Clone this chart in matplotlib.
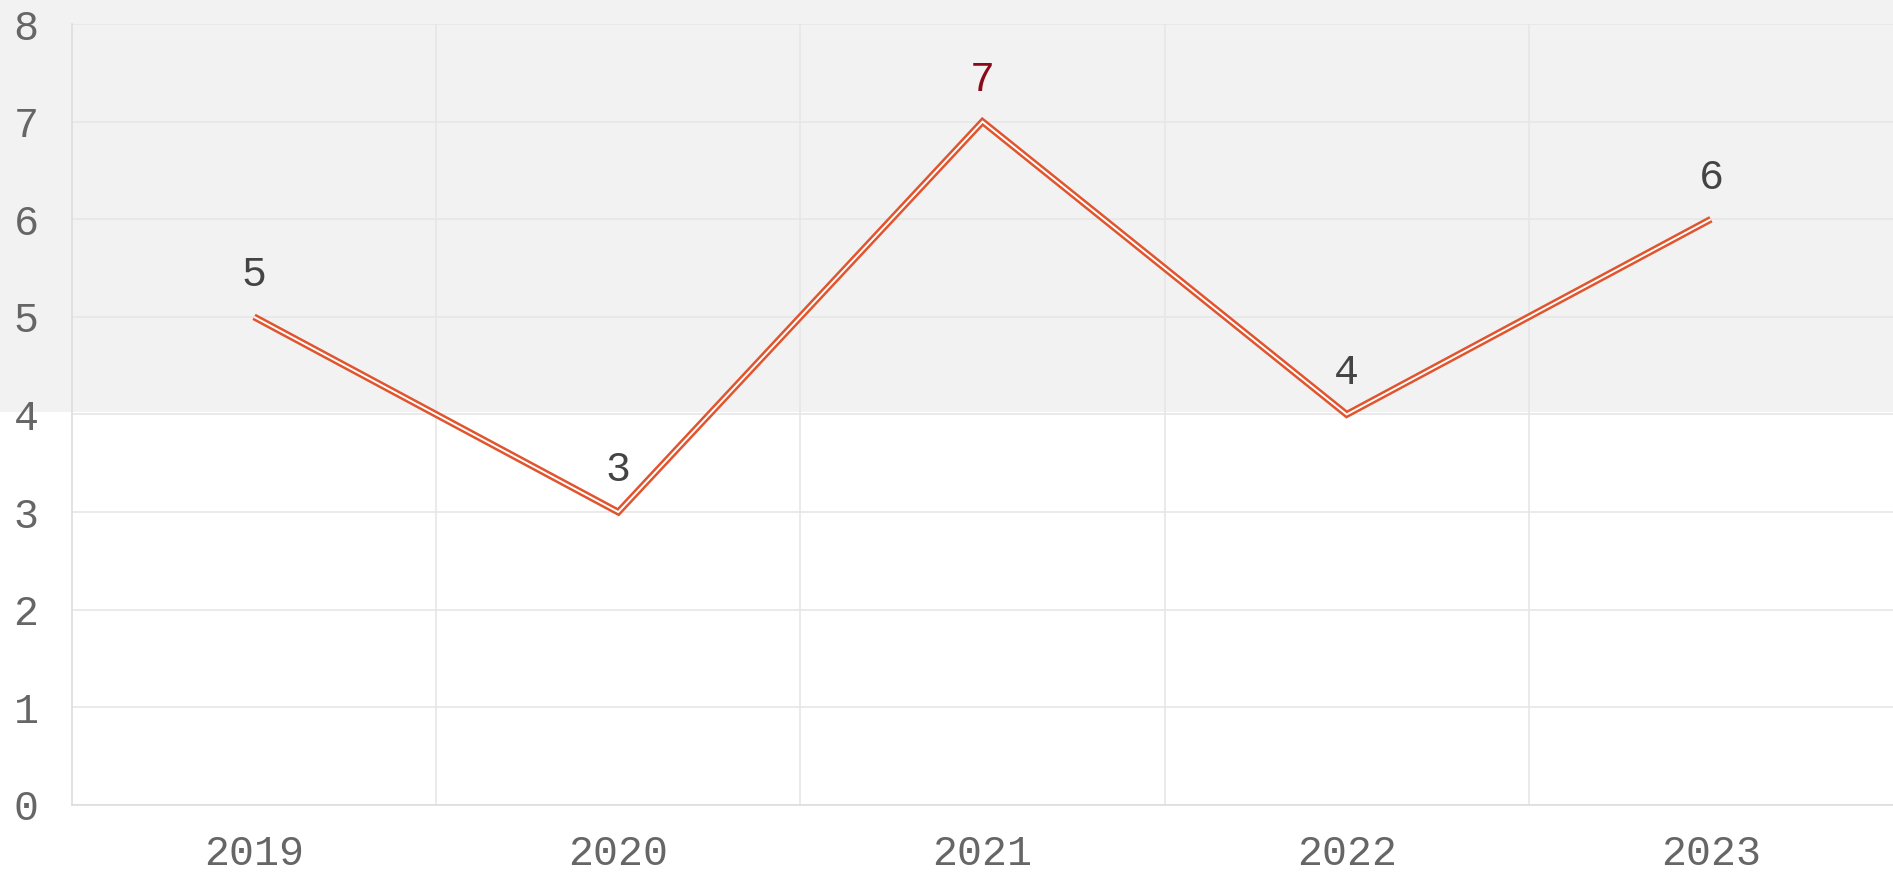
import numpy as np
import matplotlib
matplotlib.use("Agg")
import matplotlib.pyplot as plt
import matplotlib.transforms as mtransforms
from matplotlib.patches import Rectangle

years = ['2019', '2020', '2021', '2022', '2023']
values = [5, 3, 7, 4, 6]
y_ticks = [0, 1, 2, 3, 4, 5, 6, 7, 8]
highlight_from = 4.03  # grey band starts here and goes up
max_year = '2021'

plt.rcParams['font.family'] = ['Liberation Mono', 'DejaVu Sans Mono']

fig = plt.figure(figsize=(18.93, 8.73), dpi=100)
ax = fig.add_axes([0.038, 0.078, 0.962, 0.8945])
ax.set_facecolor('none')

x = np.arange(len(years))

# grey band across the whole figure width, from y=4 up
band_tr = mtransforms.blended_transform_factory(fig.transFigure, ax.transData)
band = Rectangle((0, highlight_from), 1, 20, transform=band_tr,
                 facecolor='#f2f2f2', edgecolor='none', zorder=0, clip_on=False)
ax.add_artist(band)

# double line: thick orange + thin white core
ax.plot(x, values, color='#e0552e', lw=5.0, solid_capstyle='butt',
        solid_joinstyle='miter', zorder=3)
ax.plot(x, values, color='white', lw=1.4, solid_capstyle='butt',
        solid_joinstyle='miter', zorder=4)

for xi, v, yr in zip(x, values, years):
    c = '#8b0a1a' if yr == max_year else '#444444'
    ax.annotate(str(v), (xi, v), xytext=(0, 30), textcoords='offset points',
                ha='center', va='center', fontsize=30, color=c, zorder=5)

ax.set_xlim(-0.5, len(years) - 0.5)
ax.set_ylim(0, 8)
ax.set_yticks(y_ticks)
ax.set_xticks(x)
ax.set_xticklabels(years)
ax.set_xticks(np.arange(len(years) - 1) + 0.5, minor=True)

ax.tick_params(axis='y', length=0, pad=24, labelsize=30, labelcolor='#666666')
ax.tick_params(axis='x', which='major', length=0, pad=21, labelsize=30,
               labelcolor='#666666')
ax.tick_params(axis='x', which='minor', length=0)

ax.grid(axis='y', color='#e6e6e6', lw=1.2, zorder=1)
ax.grid(axis='x', which='minor', color='#e6e6e6', lw=1.2, zorder=1)
ax.grid(axis='x', which='major', visible=False)
ax.set_axisbelow(True)

for s in ['top', 'right']:
    ax.spines[s].set_visible(False)
for s in ['left', 'bottom']:
    ax.spines[s].set_color('#dddddd')
    ax.spines[s].set_linewidth(1.2)

fig.savefig('out.png', dpi=100, facecolor='white')
